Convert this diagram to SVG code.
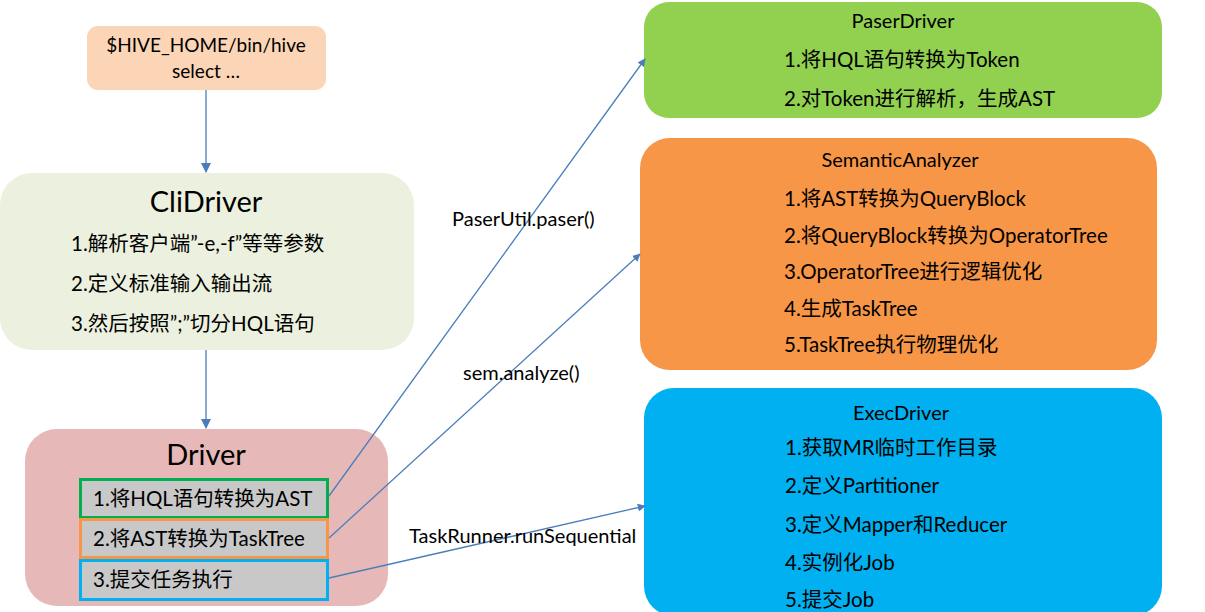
<svg xmlns="http://www.w3.org/2000/svg" width="1205" height="612" viewBox="0 0 1205 612">
<style>
text{font-family:Lato,"Noto Sans","Noto Sans CJK SC",sans-serif;fill:#000}
.t{font-size:29px;text-anchor:middle}
.h{font-size:20px;text-anchor:middle}
.s{font-size:19px;text-anchor:middle}
.i{font-size:20.5px}
.l{font-size:20px}
.c{stroke:#4A7EBB;stroke-width:1.3;fill:none}
.sub{fill:#C8C8C8;stroke-width:3}
</style>
<defs>
<marker id="a" viewBox="0 0 10 10" refX="9" refY="5" markerWidth="8" markerHeight="8" markerUnits="userSpaceOnUse" orient="auto"><path d="M0,0 L10,5 L0,10 z" fill="#4A7EBB"/></marker>
<marker id="b" viewBox="0 0 10 10" refX="9" refY="5" markerWidth="10" markerHeight="10" markerUnits="userSpaceOnUse" orient="auto"><path d="M0,0 L10,5 L0,10 z" fill="#4A7EBB"/></marker>
</defs>
<rect width="1205" height="612" fill="#fff"/>
<g id="hive">
<rect x="87" y="26" width="239" height="64" rx="11" fill="#FBD5B5"/>
<text class="s" x="206" y="52">$HIVE_HOME/bin/hive</text>
<text class="s" x="206" y="78">select …</text>
</g>
<g id="clidriver">
<rect x="0" y="173" width="414" height="177" rx="32" fill="#EBF1DE"/>
<text class="t" x="206" y="212">CliDriver</text>
<text class="i" x="71" y="251">1.解析客户端”-e,-f”等等参数</text>
<text class="i" x="71" y="291">2.定义标准输入输出流</text>
<text class="i" x="71" y="331">3.然后按照”;”切分HQL语句</text>
</g>
<g id="driver">
<rect x="25" y="429" width="363" height="177" rx="32" fill="#E6B9B8"/>
<text class="t" x="206" y="465">Driver</text>
<rect class="sub" x="80.5" y="479.5" width="247" height="38" stroke="#00B050"/>
<rect class="sub" x="80.5" y="519.5" width="247" height="38" stroke="#F79646"/>
<rect class="sub" x="80.5" y="560.5" width="247" height="39" stroke="#00B0F0"/>
<text class="i" x="93" y="506">1.将HQL语句转换为AST</text>
<text class="i" x="93" y="546">2.将AST转换为TaskTree</text>
<text class="i" x="93" y="587">3.提交任务执行</text>
</g>
<g id="paserdriver">
<rect x="644" y="2" width="518" height="116" rx="25" fill="#92D050"/>
<text class="h" x="903" y="28">PaserDriver</text>
<text class="i" x="784" y="67">1.将HQL语句转换为Token</text>
<text class="i" x="784" y="106">2.对Token进行解析，生成AST</text>
</g>
<g id="semantic">
<rect x="640" y="138" width="517" height="232" rx="30" fill="#F79646"/>
<text class="h" x="900" y="167">SemanticAnalyzer</text>
<text class="i" x="784" y="206">1.将AST转换为QueryBlock</text>
<text class="i" x="784" y="243">2.将QueryBlock转换为OperatorTree</text>
<text class="i" x="784" y="279">3.OperatorTree进行逻辑优化</text>
<text class="i" x="784" y="316">4.生成TaskTree</text>
<text class="i" x="784" y="352">5.TaskTree执行物理优化</text>
</g>
<g id="execdriver">
<rect x="644" y="388" width="518" height="228" rx="30" fill="#00B0F0"/>
<text class="h" x="901" y="420">ExecDriver</text>
<text class="i" x="785" y="455">1.获取MR临时工作目录</text>
<text class="i" x="785" y="493">2.定义Partitioner</text>
<text class="i" x="785" y="532">3.定义Mapper和Reducer</text>
<text class="i" x="785" y="570">4.实例化Job</text>
<text class="i" x="785" y="607">5.提交Job</text>
</g>
<g id="connectors">
<line class="c" x1="206" y1="90" x2="206" y2="172" marker-end="url(#b)"/>
<line class="c" x1="206" y1="350" x2="206" y2="428" marker-end="url(#b)"/>
<line class="c" x1="329" y1="496" x2="645" y2="59" marker-end="url(#a)"/>
<line class="c" x1="329" y1="538" x2="640" y2="254" marker-end="url(#a)"/>
<line class="c" x1="329" y1="578" x2="645" y2="506" marker-end="url(#a)"/>
<text class="l" x="452" y="226">PaserUtil.paser()</text>
<text class="l" x="463" y="380">sem.analyze()</text>
<text class="l" x="409" y="543">TaskRunner.runSequential</text>
</g>
</svg>
